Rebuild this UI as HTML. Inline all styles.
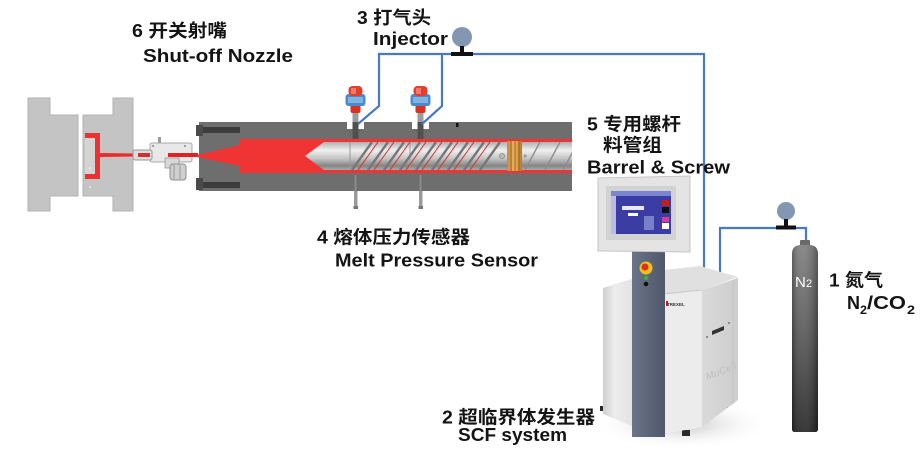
<!DOCTYPE html>
<html><head><meta charset="utf-8">
<style>
html,body{margin:0;padding:0;background:#fff;}
svg{display:block;}
text{font-family:"Liberation Sans","Noto Sans CJK SC",sans-serif;font-weight:bold;fill:#141414;}
</style></head><body>
<svg width="924" height="461" viewBox="0 0 924 461" xmlns="http://www.w3.org/2000/svg">
<defs>
 <linearGradient id="screw" x1="0" y1="0" x2="0" y2="1">
  <stop offset="0" stop-color="#b0b0b0"/>
  <stop offset="0.3" stop-color="#f0f0f0"/>
  <stop offset="0.6" stop-color="#c2c2c2"/>
  <stop offset="0.85" stop-color="#858585"/>
  <stop offset="1" stop-color="#aaaaaa"/>
 </linearGradient>
 <linearGradient id="cyl" x1="0" y1="0" x2="0" y2="1">
  <stop offset="0" stop-color="#808080"/>
  <stop offset="0.45" stop-color="#5a5a5a"/>
  <stop offset="1" stop-color="#252525"/>
 </linearGradient>
 <linearGradient id="cylh" x1="0" y1="0" x2="1" y2="0">
  <stop offset="0" stop-color="#000" stop-opacity="0.25"/>
  <stop offset="0.35" stop-color="#fff" stop-opacity="0.08"/>
  <stop offset="1" stop-color="#000" stop-opacity="0.3"/>
 </linearGradient>
 <linearGradient id="col" x1="0" y1="0" x2="1" y2="0">
  <stop offset="0" stop-color="#6b7488"/>
  <stop offset="1" stop-color="#4f576a"/>
 </linearGradient>
 <linearGradient id="leftpanel" x1="0" y1="0" x2="1" y2="0">
  <stop offset="0" stop-color="#cfcfcf"/>
  <stop offset="0.4" stop-color="#ececec"/>
  <stop offset="1" stop-color="#e4e4e4"/>
 </linearGradient>
 <linearGradient id="sidepanel" x1="0" y1="0" x2="1" y2="0">
  <stop offset="0" stop-color="#dadada"/>
  <stop offset="1" stop-color="#cdcdcd"/>
 </linearGradient>
 <radialGradient id="shadow" cx="0.5" cy="0.5" r="0.5">
  <stop offset="0" stop-color="#c4c4c4"/>
  <stop offset="1" stop-color="#ffffff" stop-opacity="0"/>
 </radialGradient>
 <linearGradient id="copper" x1="0" y1="0" x2="1" y2="0">
  <stop offset="0" stop-color="#c88a3a"/>
  <stop offset="0.5" stop-color="#f0b45a"/>
  <stop offset="1" stop-color="#b87828"/>
 </linearGradient>
 <clipPath id="screwclip"><path d="M305 156 L324 142 H572 V170 H324 Z"/></clipPath>
</defs>

<!-- ===== Mold ===== -->
<path d="M28 98 H50 V115 H78 V196 H50 V211 H28 Z" fill="#c4c4c4" stroke="#b2b2b2" stroke-width="1"/>
<path d="M133 98 H113 V115 H83 V196 H113 V211 H133 Z" fill="#c4c4c4" stroke="#b2b2b2" stroke-width="1"/>
<rect x="85" y="138" width="10" height="36" fill="#d4d4d4"/>
<path d="M85 133 H100 V179 H85 V174 H95 V138 H85 Z" fill="#ee3030"/>
<circle cx="90" cy="168" r="0.8" fill="#fff"/>
<circle cx="90" cy="187" r="0.8" fill="#fff"/>
<!-- sprue -->
<path d="M100 153 L136 153.5 L136 156.5 L100 157 Z" fill="#ee2b2b"/>

<!-- ===== Nozzle device ===== -->
<rect x="158" y="137" width="3" height="9" fill="#999"/>
<rect x="150" y="143" width="42" height="19" rx="2" fill="#e8e8e8" stroke="#a9a9a9" stroke-width="1"/>
<rect x="133" y="150" width="19" height="10" rx="2" fill="#dcdcdc" stroke="#999" stroke-width="1"/>
<rect x="138" y="153" width="12" height="4" fill="#cc3030"/>
<rect x="165" y="158" width="14" height="10" fill="#d8d8d8" stroke="#999" stroke-width="0.8"/>
<rect x="170" y="164" width="16" height="16" rx="3" fill="#cfcfcf" stroke="#8c8c8c" stroke-width="1"/>
<line x1="174" y1="165" x2="174" y2="179" stroke="#999" stroke-width="1"/>
<line x1="180" y1="165" x2="180" y2="179" stroke="#999" stroke-width="1"/>
<rect x="168" y="153" width="30" height="4" fill="#e02222"/>
<circle cx="153" cy="146" r="1" fill="#888"/>
<circle cx="185" cy="146" r="1" fill="#888"/>

<!-- ===== Barrel ===== -->
<rect x="199" y="122" width="373" height="69" fill="#6e6e6e"/>
<rect x="196" y="125" width="7" height="11" fill="#4a4a4a"/>
<rect x="196" y="178" width="7" height="12" fill="#4a4a4a"/>
<rect x="203" y="127" width="37" height="6" fill="#3c3c3c"/>
<rect x="203" y="182" width="37" height="6" fill="#3c3c3c"/>
<path d="M197 155 L240 145 V139 H572 V173 H240 V166 L197 157 Z" fill="#f03434"/>
<rect x="456" y="123" width="2.5" height="4" fill="#111"/>

<!-- screw -->
<path d="M305 156 L324 142 H572 V170 H324 Z" fill="url(#screw)"/>
<g clip-path="url(#screwclip)">
  <line x1="350" y1="142" x2="350" y2="170" stroke="#9a9a9a" stroke-width="1"/>
  <line x1="410" y1="142" x2="410" y2="170" stroke="#a0a0a0" stroke-width="1"/>
  <g stroke="#777" stroke-width="2.4">
    <line x1="352" y1="170" x2="372" y2="142"/>
    <line x1="368" y1="170" x2="388" y2="142"/>
    <line x1="384" y1="170" x2="404" y2="142"/>
    <line x1="400" y1="170" x2="420" y2="142"/>
    <line x1="416" y1="170" x2="436" y2="142"/>
    <line x1="432" y1="170" x2="452" y2="142"/>
    <line x1="448" y1="170" x2="468" y2="142"/>
    <line x1="464" y1="170" x2="484" y2="142"/>
    <line x1="480" y1="170" x2="500" y2="142"/>
  </g>
  <g stroke="#d83030" stroke-width="1">
    <line x1="358" y1="170" x2="378" y2="142"/>
    <line x1="374" y1="170" x2="394" y2="142"/>
    <line x1="390" y1="170" x2="410" y2="142"/>
    <line x1="406" y1="170" x2="426" y2="142"/>
    <line x1="422" y1="170" x2="442" y2="142"/>
    <line x1="438" y1="170" x2="458" y2="142"/>
    <line x1="454" y1="170" x2="474" y2="142"/>
    <line x1="470" y1="170" x2="490" y2="142"/>
  </g>
  <g stroke="#8e8e8e" stroke-width="1.4">
    <line x1="525" y1="170" x2="540" y2="142"/>
    <line x1="545" y1="170" x2="560" y2="142"/>
    <line x1="563" y1="170" x2="578" y2="142"/>
  </g>
</g>
<circle cx="502" cy="156" r="2.5" fill="#bbb" stroke="#888" stroke-width="0.8"/>
<rect x="507" y="141" width="15" height="30" fill="url(#copper)"/>
<g stroke="#8a5a20" stroke-width="0.9">
  <line x1="511" y1="141" x2="511" y2="171"/>
  <line x1="515" y1="141" x2="515" y2="171"/>
  <line x1="519" y1="141" x2="519" y2="171"/>
</g>
<circle cx="525" cy="156" r="1.5" fill="#999"/>

<!-- injectors -->
<g>
  <rect x="347" y="122" width="17" height="7" fill="#fff"/>
  <rect x="352.5" y="112" width="6" height="27" fill="#505050"/>
  <rect x="352.5" y="112" width="6" height="10" fill="#9c9c9c"/>
  <rect x="350.5" y="104" width="10" height="9" rx="2" fill="#d83222"/>
  <rect x="345.5" y="94" width="20" height="12" rx="3" fill="#4b8bcb"/>
  <rect x="348" y="97" width="15" height="6" fill="#7fb3e4"/>
  <rect x="348.5" y="86" width="14" height="10" rx="4" fill="#e0402e"/>
  <rect x="351" y="88" width="5" height="6" fill="#f27a6a"/>
</g>
<g transform="translate(65,0)">
  <rect x="347" y="122" width="17" height="7" fill="#fff"/>
  <rect x="352.5" y="112" width="6" height="27" fill="#505050"/>
  <rect x="352.5" y="112" width="6" height="10" fill="#9c9c9c"/>
  <rect x="350.5" y="104" width="10" height="9" rx="2" fill="#d83222"/>
  <rect x="345.5" y="94" width="20" height="12" rx="3" fill="#4b8bcb"/>
  <rect x="348" y="97" width="15" height="6" fill="#7fb3e4"/>
  <rect x="348.5" y="86" width="14" height="10" rx="4" fill="#e0402e"/>
  <rect x="351" y="88" width="5" height="6" fill="#f27a6a"/>
</g>
<!-- pressure sensors -->
<g fill="#9a9a9a">
  <rect x="354.5" y="175" width="2" height="16" fill="#8a8a8a"/>
  <rect x="354" y="191" width="3.5" height="17"/>
  <rect x="353.5" y="206" width="4.5" height="3" fill="#777"/>
  <rect x="419.5" y="175" width="2" height="16" fill="#8a8a8a"/>
  <rect x="419" y="191" width="3.5" height="17"/>
  <rect x="418.5" y="206" width="4.5" height="3" fill="#777"/>
</g>

<!-- ===== Blue lines ===== -->
<g fill="none" stroke="#4a78c8" stroke-width="2.2" stroke-linejoin="miter">
  <path d="M358 124 L379 106 V54 H704 V272"/>
  <path d="M422 124 L442 106 V54"/>
  <path d="M720 274 V228 H806 V244"/>
</g>
<!-- gauges -->
<circle cx="462" cy="37" r="10" fill="#8497b2"/>
<rect x="460" y="46" width="4" height="7" fill="#111"/>
<rect x="451" y="52" width="22" height="4" fill="#111"/>
<circle cx="786" cy="211" r="9" fill="#8497b2"/>
<rect x="784" y="219" width="4" height="7" fill="#111"/>
<rect x="776" y="225.5" width="20" height="4" fill="#111"/>

<!-- ===== N2 cylinder ===== -->
<rect x="800" y="240" width="10" height="6" rx="1" fill="#6a6a6a"/>
<path d="M792 254 Q792 245 801 245 H809 Q818 245 818 254 V429 Q818 432 815 432 H795 Q792 432 792 429 Z" fill="url(#cyl)"/>
<path d="M792 254 Q792 245 801 245 H809 Q818 245 818 254 V429 Q818 432 815 432 H795 Q792 432 792 429 Z" fill="url(#cylh)"/>
<text x="795" y="287" style="fill:#fff;font-weight:normal;" font-size="15">N</text>
<text x="806" y="287" style="fill:#fff;font-weight:normal;" font-size="11">2</text>

<!-- ===== SCF machine ===== -->
<ellipse cx="682" cy="424" rx="90" ry="26" fill="url(#shadow)"/>
<!-- wheels -->
<rect x="620" y="412" width="7" height="6" fill="#2a2a2a"/>
<rect x="600" y="406" width="6" height="5" fill="#2a2a2a"/>
<rect x="682" y="430" width="8" height="6" fill="#2a2a2a"/>
<rect x="721" y="402" width="7" height="6" fill="#2a2a2a"/>
<!-- top surface -->
<path d="M603 288 L632 279 L664 270 L700 266 L738 277 L702 290 L664 294 Z" fill="#e0e0e0"/>
<!-- left front panel -->
<path d="M603 288 L632 280 V426 L603 414 Z" fill="url(#leftpanel)"/>
<!-- right front panel -->
<path d="M663 294 L702 290 V427 L663 434 Z" fill="#ececec"/>
<line x1="663" y1="294" x2="702" y2="290" stroke="#c8c8c8" stroke-width="1"/>
<!-- side panel -->
<path d="M702 290 L738 278 V400 L702 427 Z" fill="url(#sidepanel)"/>
<line x1="733" y1="280" x2="733" y2="404" stroke="#c4c4c4" stroke-width="1"/>
<path d="M712 331 L724 326 V330 L712 335 Z" fill="#333"/>
<circle cx="707" cy="337" r="1" fill="#777"/>
<circle cx="729" cy="323" r="1" fill="#777"/>
<text x="704" y="376" transform="rotate(-22 717 370)" font-size="10" style="fill:#c2c6c2;font-style:italic;">MuCell</text>
<!-- logo -->
<text x="667" y="306" font-size="4.5" style="fill:#333;">TREXEL</text>
<rect x="666" y="301" width="2" height="5" fill="#c02020"/>
<!-- column -->
<path d="M632 250 H665 V437 H632 Z" fill="url(#col)"/>
<circle cx="646" cy="268" r="6.5" fill="#f0c020"/>
<circle cx="645" cy="267" r="3.5" fill="#e03020"/>
<circle cx="646" cy="278" r="2" fill="#40b040"/>
<circle cx="646" cy="284" r="2.3" fill="#111"/>
<!-- monitor -->
<path d="M598 178 L690 176 V252 L598 251 Z" fill="#e4e4e4" stroke="#c6c6c6" stroke-width="1"/>
<rect x="606" y="186" width="70" height="54" fill="#d2d2d2"/>
<rect x="611" y="191" width="60" height="43" fill="#3b3ca4"/>
<rect x="611" y="191" width="60" height="5" fill="#7a86d0"/>
<rect x="611" y="196" width="5" height="38" fill="#b8bce4"/>
<rect x="622" y="206" width="22" height="4" fill="#e8e8f4"/>
<rect x="628" y="213" width="10" height="3" fill="#ffffff"/>
<rect x="644" y="216" width="10" height="14" fill="#7a80c8"/>
<rect x="662" y="200" width="7" height="6" fill="#c02020"/>
<rect x="662" y="207" width="7" height="6" fill="#111"/>
<rect x="662" y="217" width="7" height="5" fill="#d040a0"/>
<rect x="662" y="223" width="7" height="6" fill="#ffffff"/>

<!-- ===== Labels ===== -->
<text x="132" y="37" font-size="18" textLength="95" lengthAdjust="spacingAndGlyphs">6 开关射嘴</text>
<text x="143" y="62" font-size="18" textLength="150" lengthAdjust="spacingAndGlyphs">Shut-off Nozzle</text>
<text x="357" y="24" font-size="18" textLength="74" lengthAdjust="spacingAndGlyphs">3 打气头</text>
<text x="373" y="45" font-size="18" textLength="75" lengthAdjust="spacingAndGlyphs">Injector</text>
<text x="587" y="130.5" font-size="18" textLength="94" lengthAdjust="spacingAndGlyphs">5 专用螺杆</text>
<text x="603" y="151.5" font-size="18" textLength="59" lengthAdjust="spacingAndGlyphs">料管组</text>
<text x="587" y="173.5" font-size="18" textLength="143" lengthAdjust="spacingAndGlyphs">Barrel &amp; Screw</text>
<text x="317" y="243.5" font-size="18" textLength="153" lengthAdjust="spacingAndGlyphs">4 熔体压力传感器</text>
<text x="335" y="266.5" font-size="18" textLength="203" lengthAdjust="spacingAndGlyphs">Melt Pressure Sensor</text>
<text x="442" y="423.5" font-size="18" textLength="153" lengthAdjust="spacingAndGlyphs">2 超临界体发生器</text>
<text x="458" y="441" font-size="18" textLength="109" lengthAdjust="spacingAndGlyphs">SCF system</text>
<text x="829" y="286.5" font-size="18" textLength="54" lengthAdjust="spacingAndGlyphs">1 氮气</text>
<text x="847" y="309" font-size="18" textLength="13" lengthAdjust="spacingAndGlyphs">N</text>
<text x="860" y="314" font-size="12" textLength="7" lengthAdjust="spacingAndGlyphs">2</text>
<text x="867" y="309" font-size="18" textLength="39" lengthAdjust="spacingAndGlyphs">/CO</text>
<text x="907" y="314" font-size="12" textLength="8" lengthAdjust="spacingAndGlyphs">2</text>
</svg>
</body></html>
